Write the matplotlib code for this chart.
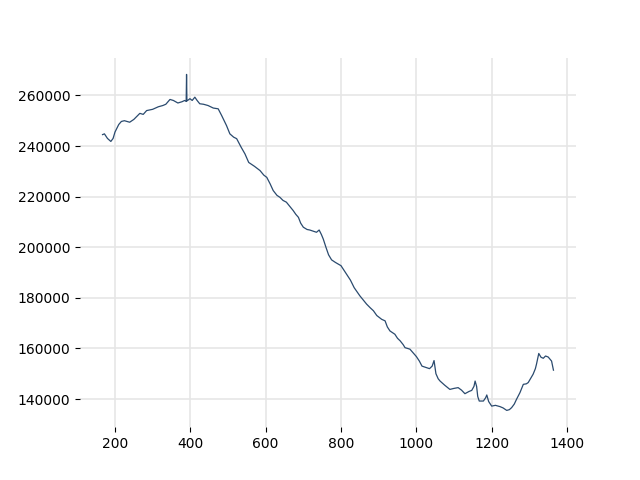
import matplotlib
matplotlib.use("Agg")
import matplotlib.pyplot as plt

# values
x_vals = [
    167, 172, 180, 189, 195, 200, 210, 217, 225, 239, 250, 266, 275, 284, 300,
    315, 327, 335, 346, 355, 367, 378, 385, 389, 390, 391, 399, 405, 412, 418,
    425, 435, 447, 461, 474, 483, 496, 505, 515, 523, 535, 545, 555, 570, 585,
    595, 603, 612, 620, 630, 638, 646, 655, 665, 673, 680, 687, 693, 700, 710,
    717, 727, 735, 742, 748, 753, 760, 767, 775, 785, 800, 812, 825, 835, 850,
    860, 868, 878, 886, 895, 908, 917, 923, 930, 943, 950, 957, 965, 970, 983,
    990, 1000, 1008, 1015, 1025, 1035, 1042, 1047, 1052, 1058, 1063, 1075, 1089,
    1100, 1111, 1120, 1129, 1140, 1147, 1153, 1156, 1160, 1163, 1167, 1178, 1184,
    1187, 1192, 1200, 1210, 1222, 1230, 1240, 1247, 1253, 1260, 1266, 1275, 1284,
    1292, 1297, 1305, 1310, 1316, 1319, 1325, 1331, 1337, 1343, 1350, 1359, 1364,
]
y_vals = [
    244500, 244800, 243000, 241800, 243000, 245500, 248500, 249700, 250000,
    249400, 250500, 252900, 252500, 254000, 254500, 255500, 256000, 256500,
    258400, 258000, 257000, 257500, 258000, 257600, 268300, 257800, 258700,
    258000, 259300, 258000, 256700, 256500, 256000, 255000, 254700, 252100,
    248100, 244800, 243500, 242900, 239500, 236900, 233500, 232000, 230300,
    228500, 227600, 225000, 222400, 220500, 219700, 218500, 217800, 216000,
    214500, 213000, 211800, 209500, 207900, 207000, 206800, 206300, 205900,
    206800, 205000, 203200, 200000, 197000, 195000, 194000, 192700, 190000,
    187000, 184000, 180800, 179000, 177500, 176000, 174900, 173000, 171500,
    170900, 168500, 166900, 165600, 164000, 163000, 161500, 160300, 159700,
    158500, 156800, 155000, 153000, 152500, 152000, 153000, 155200, 150000,
    148000, 147100, 145500, 143800, 144200, 144500, 143500, 142100, 143000,
    143400, 145000, 147100, 145000, 141000, 139200, 139200, 140500, 141600,
    139000, 137200, 137500, 137000, 136500, 135500, 135800, 136600, 138000,
    139900, 142500, 145800, 146000, 146500, 148500, 149800, 152000, 153800,
    158000, 156500, 156100, 157000, 156600, 155000, 151400,
]

fig, ax = plt.subplots(figsize=(6.4, 4.8), dpi=100)
ax.plot(x_vals, y_vals, color="#2a4a6e", linewidth=0.9)

for side in ["top", "right", "bottom", "left"]:
    ax.spines[side].set_visible(False)
ax.grid(True, color="#e6e6e6", linewidth=1.2)
ax.set_axisbelow(True)
ax.ticklabel_format(axis="y", style="plain", useOffset=False)

plt.savefig("out.png", dpi=100)
